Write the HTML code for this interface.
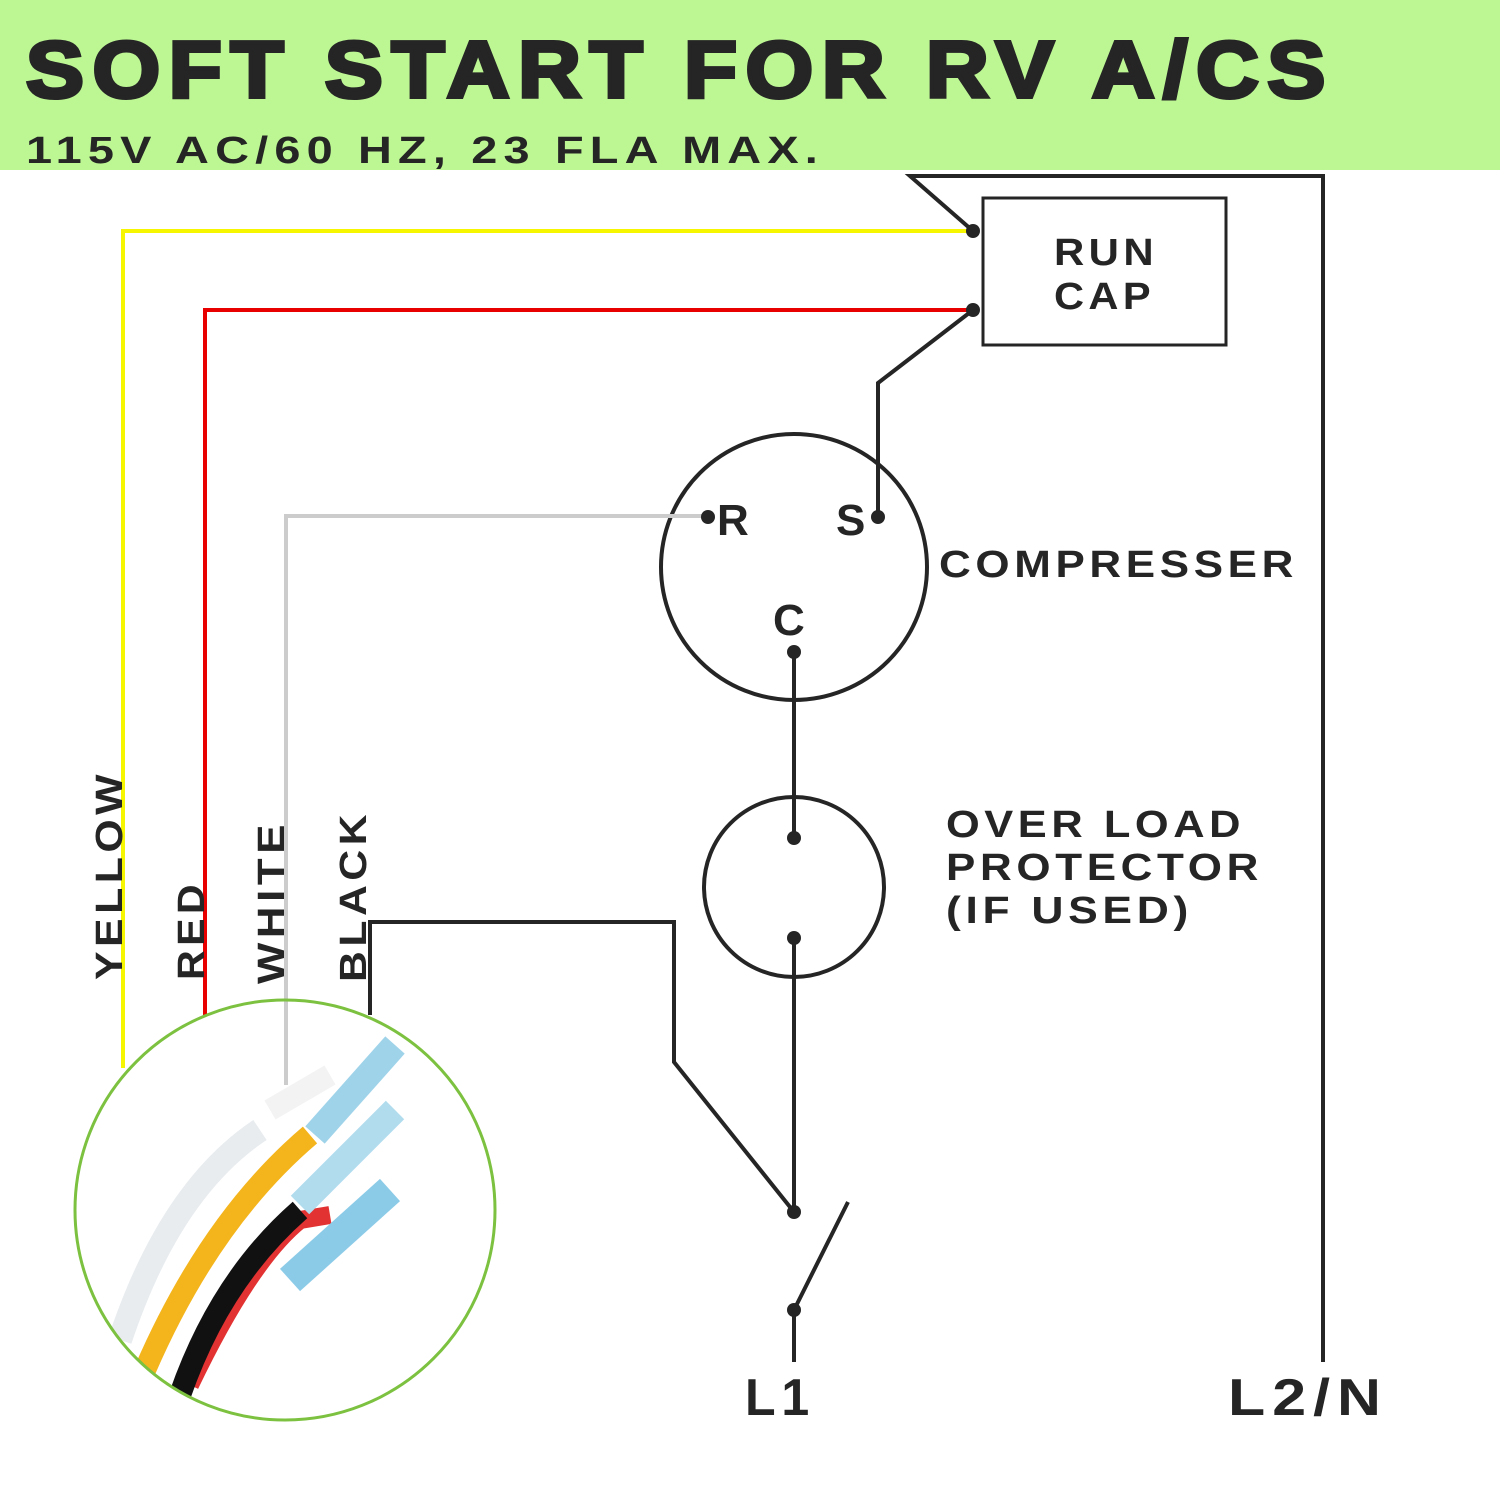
<!DOCTYPE html>
<html><head><style>body{margin:0;background:#fff}svg{display:block}</style></head><body>
<svg width="1500" height="1500" viewBox="0 0 1500 1500" xmlns="http://www.w3.org/2000/svg" font-family="Liberation Sans, sans-serif">
<rect x="0" y="0" width="1500" height="170" fill="#bdf794"/>
<text x="26" y="97" font-size="80" font-weight="900" fill="#252525" letter-spacing="8" textLength="1308" lengthAdjust="spacingAndGlyphs" stroke="#252525" stroke-width="4">SOFT START FOR RV A/CS</text>
<text x="26" y="163" font-size="38" font-weight="bold" fill="#252525" letter-spacing="5" textLength="798" lengthAdjust="spacingAndGlyphs">115V AC/60 HZ, 23 FLA MAX.</text>
<g fill="none" stroke-width="4">
<polyline points="973,231 910,176 1323,176 1323,1362" stroke="#252525"/>
<rect x="983" y="198" width="243" height="147" stroke="#252525" stroke-width="3"/>
<polyline points="123,1068 123,231 973,231" stroke="#f6f600"/>
<polyline points="205,1015 205,310 973,310" stroke="#e80000"/>
<polyline points="973,310 878,383 878,517" stroke="#252525"/>
<circle cx="794" cy="567" r="133" stroke="#252525"/>
<polyline points="286,1085 286,516 708,516" stroke="#cccccc"/>
<line x1="794" y1="652" x2="794" y2="838" stroke="#252525"/>
<circle cx="794" cy="887" r="90" stroke="#252525"/>
<line x1="794" y1="938" x2="794" y2="1212" stroke="#252525"/>
<polyline points="370,1015 370,922 674,922 674,1062 794,1212" stroke="#252525"/>
<line x1="794" y1="1310" x2="848" y2="1202" stroke="#252525"/>
<line x1="794" y1="1310" x2="794" y2="1362" stroke="#252525"/>
</g>
<g fill="#252525">
<circle cx="973" cy="231" r="7"/><circle cx="973" cy="310" r="7"/>
<circle cx="708" cy="517" r="7"/><circle cx="878" cy="517" r="7"/>
<circle cx="794" cy="652" r="7"/><circle cx="794" cy="838" r="7"/>
<circle cx="794" cy="938" r="7"/><circle cx="794" cy="1212" r="7"/><circle cx="794" cy="1310" r="7"/>
</g>
<g fill="#252525" font-weight="bold" lengthAdjust="spacingAndGlyphs">
<text x="1054" y="265" font-size="38" letter-spacing="4" textLength="104" lengthAdjust="spacingAndGlyphs">RUN</text>
<text x="1054" y="309" font-size="38" letter-spacing="4" textLength="101" lengthAdjust="spacingAndGlyphs">CAP</text>
<text x="717" y="535" font-size="44">R</text>
<text x="836" y="535" font-size="44">S</text>
<text x="773" y="635" font-size="44">C</text>
<text x="939" y="577" font-size="38" letter-spacing="4" textLength="359" lengthAdjust="spacingAndGlyphs">COMPRESSER</text>
<text x="946" y="837" font-size="38" letter-spacing="4" textLength="299" lengthAdjust="spacingAndGlyphs">OVER LOAD</text>
<text x="946" y="880" font-size="38" letter-spacing="4" textLength="317" lengthAdjust="spacingAndGlyphs">PROTECTOR</text>
<text x="946" y="923" font-size="38" letter-spacing="4" textLength="247" lengthAdjust="spacingAndGlyphs">(IF USED)</text>
<text x="745" y="1415" font-size="52" letter-spacing="6" textLength="70" lengthAdjust="spacingAndGlyphs">L1</text>
<text x="1228" y="1415" font-size="52" letter-spacing="6" textLength="160" lengthAdjust="spacingAndGlyphs">L2/N</text>
<g font-size="38" letter-spacing="4">
<text transform="translate(122,980) rotate(-90)" textLength="210" lengthAdjust="spacingAndGlyphs">YELLOW</text>
<text transform="translate(204,980) rotate(-90)" textLength="100" lengthAdjust="spacingAndGlyphs">RED</text>
<text transform="translate(284,984) rotate(-90)" textLength="164" lengthAdjust="spacingAndGlyphs">WHITE</text>
<text transform="translate(366,982) rotate(-90)" textLength="172" lengthAdjust="spacingAndGlyphs">BLACK</text>
</g>
</g>
<defs><clipPath id="c"><circle cx="285" cy="1210" r="210"/></clipPath></defs>
<g clip-path="url(#c)" fill="none" stroke-linecap="butt">
<path d="M120,1340 Q170,1190 260,1130" stroke="#e8ecef" stroke-width="24"/>
<path d="M270,1110 L330,1075" stroke="#f3f3f3" stroke-width="22"/>
<path d="M190,1385 Q250,1260 300,1220 L330,1215" stroke="#e23232" stroke-width="18"/>
<path d="M145,1370 Q210,1220 310,1135" stroke="#f4b41c" stroke-width="22"/>
<path d="M180,1395 Q220,1280 300,1210" stroke="#111" stroke-width="22"/>
<path d="M315,1135 L395,1045" stroke="#9fd3ea" stroke-width="26"/>
<path d="M300,1205 L395,1110" stroke="#b0dcee" stroke-width="26"/>
<path d="M290,1280 L390,1190" stroke="#8ccbe8" stroke-width="30"/>
</g>
<circle cx="285" cy="1210" r="210" fill="none" stroke="#7cc13f" stroke-width="3"/>
</svg>
</body></html>
